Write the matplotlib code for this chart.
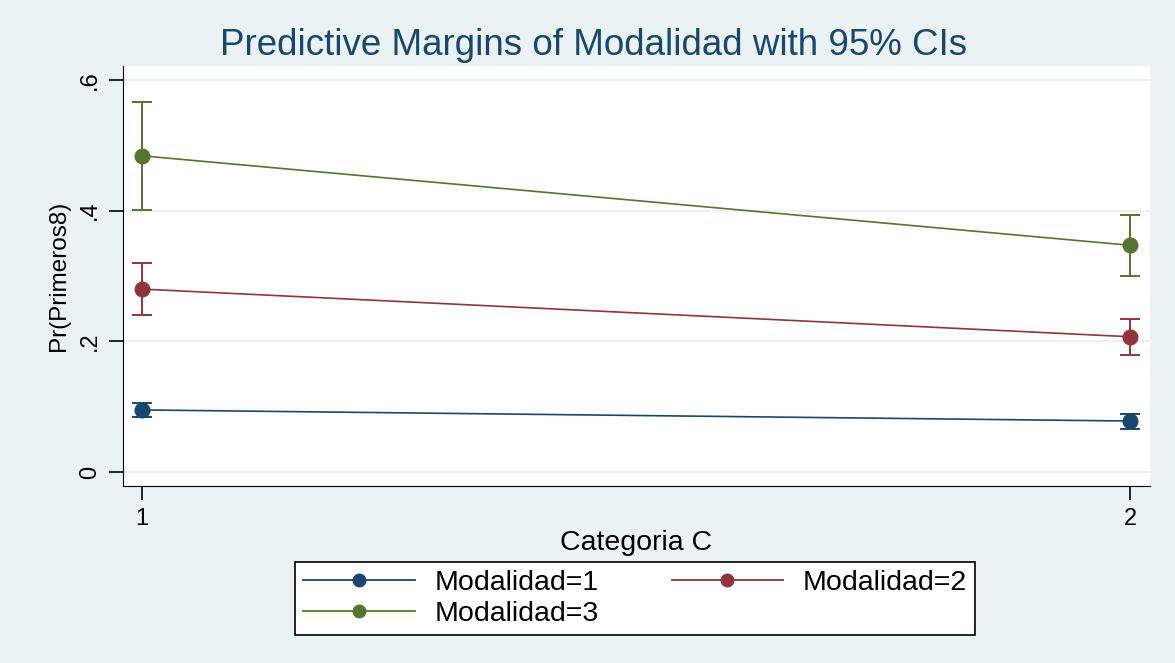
import matplotlib.pyplot as plt
from matplotlib.lines import Line2D
import numpy as np

plt.rcParams['font.family'] = ['Liberation Sans', 'DejaVu Sans']

# data
categoria = [1, 2]
labels = ['Modalidad=1', 'Modalidad=2', 'Modalidad=3']
margin = [[0.095, 0.078], [0.280, 0.207], [0.484, 0.347]]
ci_low = [[0.084, 0.066], [0.240, 0.179], [0.401, 0.300]]
ci_high = [[0.105, 0.089], [0.320, 0.234], [0.566, 0.393]]
colors = ['#1A476F', '#90353B', '#55752F']

bg = '#EAF2F3'
fig = plt.figure(figsize=(11.75, 6.63), dpi=100, facecolor=bg)
ax = fig.add_axes([0.1047, 0.267, 0.874, 0.6335])
ax.set_facecolor('white')

handles = []
for m, lo, hi, lab, c in zip(margin, ci_low, ci_high, labels, colors):
    m = np.array(m)
    yerr = [m - np.array(lo), np.array(hi) - m]
    ax.errorbar(categoria, m, yerr=yerr, color=c, lw=1.2, marker='o', ms=10.5,
                capsize=7, capthick=1.4, elinewidth=1.4)
    handles.append(Line2D([], [], color=c, lw=1.3, marker='o', ms=9, label=lab))

ax.set_xlim(0.981, 2.020)
ax.set_ylim(-0.0214, 0.6215)
ax.set_yticks([0, 0.2, 0.4, 0.6])
ax.set_yticklabels(['0', '.2', '.4', '.6'], rotation=90, va='center')
ax.set_xticks(categoria)
ax.grid(axis='y', color=bg, lw=1.5)
ax.set_axisbelow(True)
for s in ['top', 'right']:
    ax.spines[s].set_visible(False)
ax.tick_params(labelsize=17, length=10, width=1.2, pad=6)
ax.set_xlabel('Categoria C', fontsize=20.5, labelpad=0)
ax.set_ylabel('Pr(Primeros8)', fontsize=17.5, labelpad=6)
fig.text(0.505, 0.931, 'Predictive Margins of Modalidad with 95% CIs', fontsize=26.5,
         color='#1A476F', ha='center', va='center')

# row-major order: 1, 2 on first row, 3 below
order = [handles[0], handles[2], handles[1]]
leg = fig.legend(order, [h.get_label() for h in order], loc='lower left',
                 bbox_to_anchor=(0.251, 0.042, 0.579, 0.113),
                 mode='expand', ncol=2, fontsize=20.5, handlelength=3.9,
                 fancybox=False, edgecolor='black', framealpha=1,
                 borderaxespad=0, borderpad=0.3, columnspacing=2,
                 labelspacing=0.15, handletextpad=0.7)
leg.get_frame().set_linewidth(1.2)

fig.savefig('out.png', dpi=100, facecolor=bg)
